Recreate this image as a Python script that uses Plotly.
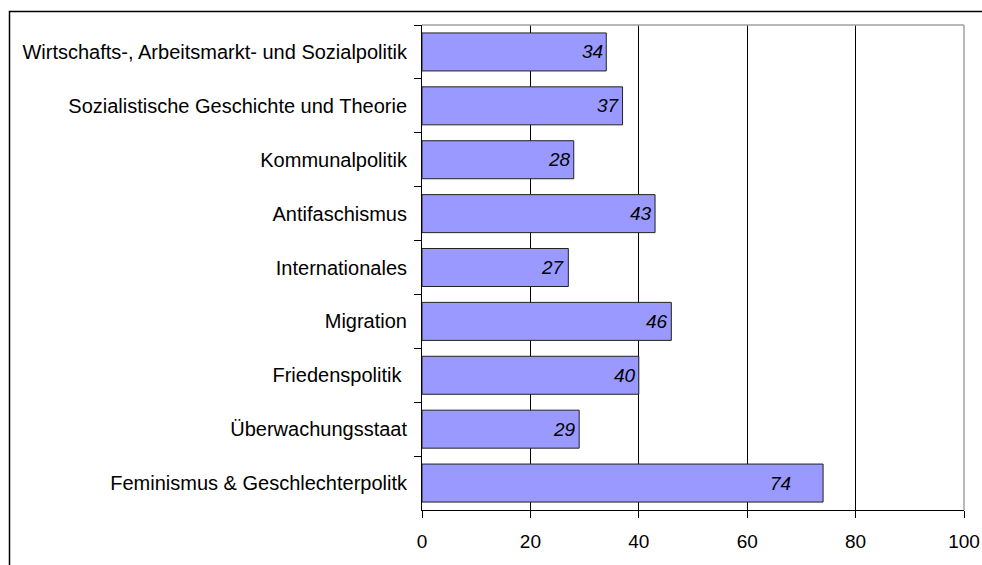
import plotly.graph_objects as go

categories = [
    "Wirtschafts-, Arbeitsmarkt- und Sozialpolitik",
    "Sozialistische Geschichte und Theorie",
    "Kommunalpolitik",
    "Antifaschismus",
    "Internationales",
    "Migration",
    "Friedenspolitik ",
    "Überwachungsstaat",
    "Feminismus & Geschlechterpolitk",
]
values = [34, 37, 28, 43, 27, 46, 40, 29, 74]
x_ticks = [0, 20, 40, 60, 80, 100]

FONT = "Liberation Sans, Arial, sans-serif"
FS_Y = 20
FS_X = 19
FS_LBL = 19
label_shift = {"Feminismus & Geschlechterpolitk": -30}

fig = go.Figure()
fig.add_trace(go.Bar(
    x=values, y=categories, orientation="h",
    marker=dict(color="#9999FF", line=dict(color="#222222", width=1)),
    hoverinfo="skip",
))

for c, v in zip(categories, values):
    fig.add_annotation(
        x=v, y=c, xref="x", yref="y", text=str(v), showarrow=False,
        xanchor="right", yanchor="middle", xshift=label_shift.get(c, -1),
        font=dict(family=FONT, size=FS_LBL, color="black", style="italic"),
    )

W, H = 982, 565
L, T = 422, 25
pw, ph = 542, 485
R, B = W - L - pw, H - T - ph

def px(xp):
    return (xp - L) / pw

def py(yp):
    return 1 - (yp - T) / ph

# outer border of chart area
fig.add_shape(type="rect", xref="paper", yref="paper",
              x0=px(9.5), x1=px(1100), y0=py(700), y1=py(11.5),
              line=dict(color="black", width=1.5), layer="below")
# plot area top/right border (gray)
fig.add_shape(type="line", xref="paper", yref="paper", x0=0, x1=1, y0=1, y1=1,
              line=dict(color="#a0a0a0", width=1.5), layer="above")
fig.add_shape(type="line", xref="paper", yref="paper", x0=1, x1=1, y0=0, y1=1,
              line=dict(color="#a0a0a0", width=1.5), layer="above")

fig.update_layout(
    width=W, height=H,
    margin=dict(l=L, r=R, t=T, b=B, pad=0, autoexpand=False),
    paper_bgcolor="white", plot_bgcolor="white",
    font=dict(family=FONT, size=FS_Y, color="black"),
    bargap=0.295,
    showlegend=False,
)
fig.update_xaxes(
    range=[0, 100], tickvals=x_ticks, ticktext=[str(t) for t in x_ticks],
    showgrid=True, gridcolor="black", gridwidth=1,
    showline=True, linecolor="black", linewidth=1,
    ticks="outside", ticklen=7, tickcolor="black", zeroline=False,
    tickfont=dict(family=FONT, size=FS_X, color="black"),
    automargin=False, ticklabelstandoff=7,
)
fig.update_yaxes(
    categoryorder="array", categoryarray=categories, autorange="reversed",
    showgrid=False, showline=True, linecolor="black", linewidth=1,
    ticks="outside", ticklen=7, tickcolor="black", tickson="boundaries",
    tickfont=dict(family=FONT, size=FS_Y, color="black"),
    ticklabelstandoff=10, automargin=False,
)

fig.write_html(
    "out.html",
    config={"displayModeBar": False, "staticPlot": True},
    post_script="document.body.style.margin='0';document.body.style.overflow='hidden';",
)
